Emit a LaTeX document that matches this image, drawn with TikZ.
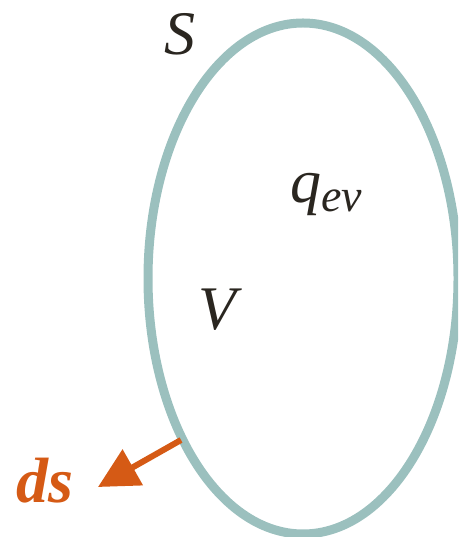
\documentclass[tikz,border=0pt]{standalone}
\usepackage{fontspec}
\setmainfont{Liberation Serif}
\usetikzlibrary{arrows.meta}
\definecolor{teal1}{HTML}{9BC0BE}
\definecolor{orng}{HTML}{D55A15}
\definecolor{ink}{HTML}{2A2620}
\begin{document}
\begin{tikzpicture}[x=1pt,y=1pt,
  lbl/.style={anchor=base, inner sep=0pt, text=ink, font=\fontsize{62}{70}\selectfont\itshape}]
\useasboundingbox (0,0) rectangle (458,537);
\begin{scope}
\clip (0,0) rectangle (458,537);
\coordinate (c) at (303,258.5);
\draw[teal1, line width=9pt] (c) ellipse [x radius=155, y radius=255.5];
\end{scope}
\coordinate (p) at (181,97);
\coordinate (tip) at (98,50);
\draw[orng, line width=6pt, -{Triangle[length=40pt,width=40pt]}] (p) -- (tip);
\node[lbl] (S) at (180,482) {S};
\node[lbl, anchor=base west] (q) at (290,334) {q\raisebox{-9pt}{\fontsize{46}{50}\selectfont ev}};
\node[lbl] (V) at (217,207) {V};
\node[lbl, text=orng, font=\fontsize{64}{70}\selectfont\bfseries\itshape] (ds) at (45,34) {ds};
\end{tikzpicture}
\end{document}
